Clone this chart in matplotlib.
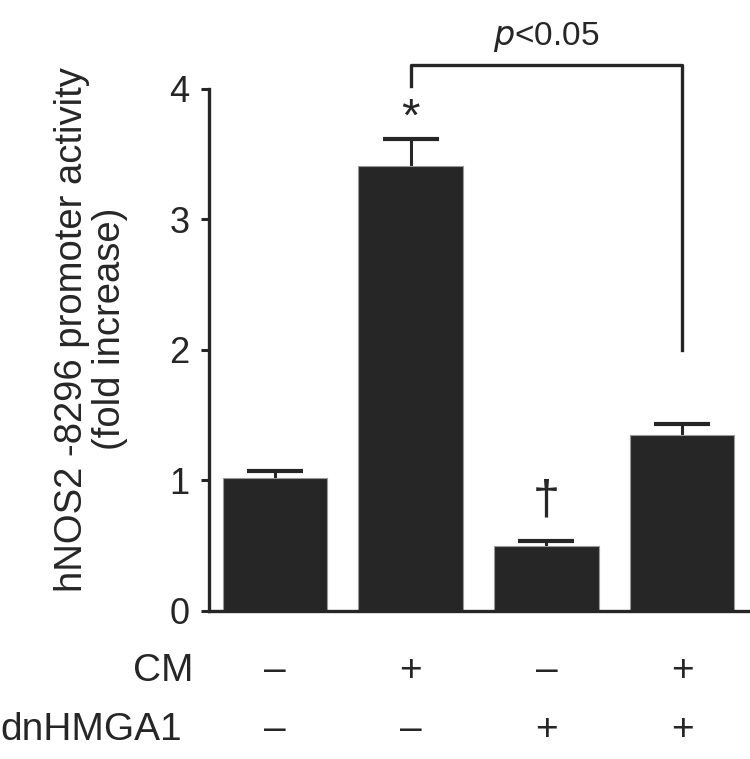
import numpy as np
import matplotlib
matplotlib.use("Agg")
import matplotlib.pyplot as plt

plt.rcParams['font.family'] = ['Liberation Sans', 'DejaVu Sans']

# data
groups = ["ctrl", "CM", "dnHMGA1", "CM+dnHMGA1"]
activity = [1.02, 3.41, 0.50, 1.35]
sem = [0.05, 0.21, 0.04, 0.08]
cm_signs = ["\u2013", "+", "\u2013", "+"]
dn_signs = ["\u2013", "\u2013", "+", "+"]
marks = ["", "*", "\u2020", ""]
row_labels = ["CM", "dnHMGA1"]

dark = "#262626"
x = np.arange(len(groups))

fig = plt.figure(figsize=(7.5, 7.59), dpi=100)
ax = fig.add_axes([0.2787, 0.195, 0.7213, 0.6878])

ax.bar(x, activity, width=0.77, color=dark, edgecolor="#9a9a9a", linewidth=0.8, zorder=2)
# symmetric bars drawn behind the columns, so only the upper half shows
ax.errorbar(x, activity, yerr=sem, fmt="none", ecolor=dark,
            elinewidth=2.2, capsize=20, capthick=3, zorder=1)

ax.set_xlim(-0.486, 3.5)
ax.set_ylim(0, 4)
ax.set_yticks([0, 1, 2, 3, 4])
ax.tick_params(axis="y", labelsize=26, width=2.2, length=6, colors=dark, pad=8)
ax.set_xticks([])
for s in ["top", "right"]:
    ax.spines[s].set_visible(False)
for s in ["left", "bottom"]:
    ax.spines[s].set_linewidth(2.4)
    ax.spines[s].set_color(dark)

ax.set_ylabel("hNOS2 -8296 promoter activity\n(fold increase)", fontsize=27.5,
              color=dark, linespacing=1.05)
ax.yaxis.set_label_coords(-0.15, 0.54)

# significance markers
for xi, (m, v, e) in enumerate(zip(marks, activity, sem)):
    if m == "*":
        ax.text(xi, 3.77, m, ha="center", va="center", fontsize=34, color=dark)
    elif m:
        ax.text(xi, v + e + 0.30, m, ha="center", va="center", fontsize=35, color=dark)

# bracket between CM and CM+dnHMGA1
ax.plot([1, 1, 3, 3], [4.02, 4.18, 4.18, 2.0], color=dark, lw=2.4, clip_on=False)
ax.text(2, 4.40, "$\\it{p}$<0.05", ha="center", va="center", fontsize=24, color=dark,
        clip_on=False)

# condition rows under the axis
row_y = [-0.46, -0.91]
row_x = [-0.604, -0.685]
for ry, rx, label, signs in zip(row_y, row_x, row_labels, [cm_signs, dn_signs]):
    ax.text(rx, ry, label, ha="right", va="center", fontsize=28, color=dark,
            clip_on=False)
    for xi, sgn in enumerate(signs):
        ax.text(xi, ry, sgn, ha="center", va="center", fontsize=28, color=dark,
                clip_on=False)

fig.savefig("out.png", dpi=100)
